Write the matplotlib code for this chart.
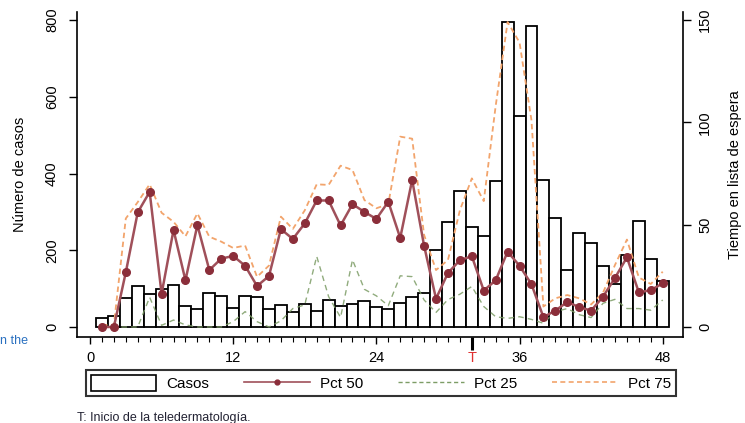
import numpy as np
import matplotlib.pyplot as plt
from matplotlib.patches import Patch
from matplotlib.lines import Line2D

plt.rcParams['font.family'] = ['Liberation Sans', 'DejaVu Sans']

# datos (meses 1..48)
meses = np.arange(1, 49)
casos = [24, 29, 75, 107, 85, 100, 109, 55, 46, 89, 82, 49, 82, 79, 46, 57,
         39, 61, 43, 71, 54, 61, 67, 53, 46, 63, 79, 89, 200, 274, 355, 260,
         238, 380, 795, 550, 785, 383, 283, 148, 246, 220, 160, 111, 188, 277,
         178, 121]
pct50 = [0, 0, 26.7, 56, 66, 16.2, 47.4, 22.8, 49.8, 27.8, 33.4, 34.7, 29.9,
         20, 24.9, 47.8, 43, 50.6, 61.8, 61.8, 49.6, 60, 56.2, 52.8, 61.2,
         43.5, 71.8, 39.7, 13.8, 26.4, 32.6, 34.6, 17.8, 22.8, 36.8, 29.9,
         20.9, 4.8, 8, 12.2, 9.7, 8, 14.8, 24, 34, 16.9, 18, 21.3]
pct25 = [0, 0, 0, 0, 14.5, 0.8, 3.4, 1, 0, 0, 0, 2.6, 7.5, 2.6, 0, 3, 9,
         10.8, 34.5, 14.8, 4.7, 32.8, 18.4, 15.2, 10.4, 25, 24.6, 13.2, 7.1,
         13.4, 16, 19.8, 10, 5, 4.2, 5, 3.7, 1.8, 7.5, 9, 6, 4.6, 11.6, 13.5,
         9, 9, 8.2, 13.2]
pct75 = [1, 1, 53, 61, 69.7, 55.8, 51.4, 44.3, 55.5, 44.1, 41.7, 38.6, 39.8,
         24.5, 30, 53.9, 47.9, 57, 69.7, 69.4, 78.8, 76.7, 62, 58, 60, 93, 92,
         45, 27.8, 32.7, 57, 72.6, 61.5, 108, 149, 139, 101, 10, 14, 15.6, 14,
         11, 16.8, 30.3, 42.7, 24.2, 21, 27]

xticks = [0, 12, 24, 32, 36, 48]
xlabels = ['0', '12', '24', 'T', '36', '48']

fig = plt.figure(figsize=(7.45, 4.23), dpi=100)
ax = fig.add_axes([77/745, 86/423, 606/745, 325/423])

ax.bar(meses, casos, width=1.0, color='white', edgecolor='black', linewidth=1.3)
ax.set_xlim(-1.09, 49.7)
ax.set_ylim(-26, 820.8)
ax.set_yticks([0, 200, 400, 600, 800])
ax.set_xticks(xticks)
ax.set_xticklabels(xlabels)
ax.set_xticks(np.arange(0, 49), minor=True)
ax.tick_params(axis='x', which='major', length=5, width=1, labelsize=10.5, pad=5)
ax.tick_params(axis='x', which='minor', length=3.5, width=0.8)
ax.tick_params(axis='y', length=6, width=1, labelsize=10.5, pad=7)
for lbl in ax.get_yticklabels():
    lbl.set_rotation(90)
    lbl.set_va('center')
ax.set_ylabel('Número de casos', fontsize=10.5)
ax.yaxis.set_label_coords(-0.082, 0.5)

# tick de T en rojo
t = ax.xaxis.get_major_ticks()[3]
t.tick1line.set_color('#d01010')
t.tick1line.set_markersize(9)
t.tick1line.set_markeredgewidth(2.2)
t.label1.set_color('#e03030')

ax2 = ax.twinx()
ax2.set_ylim(-4.9, 153.9)
ax2.plot(meses, pct25, color='#7d9d66', lw=1.0, dashes=(4, 3), alpha=0.85)
ax2.plot(meses, pct75, color='#f2a46c', lw=1.3, dashes=(3, 2))
ax2.plot(meses, pct50, color='#a0505a', lw=1.8, marker='o', ms=5.5,
         mfc='#8b2e3a', mec='#8b2e3a')
ax2.set_yticks([0, 50, 100, 150])
ax2.tick_params(axis='y', length=6, width=1, labelsize=10.5, pad=5)
for lbl in ax2.get_yticklabels():
    lbl.set_rotation(90)
    lbl.set_va('center')
ax2.set_ylabel('Tiempo en lista de espera', fontsize=10.5)
ax2.yaxis.set_label_coords(1.074, 0.5)

for a in (ax, ax2):
    a.spines['top'].set_visible(False)
    for s in a.spines.values():
        s.set_linewidth(1.2)
ax.spines['right'].set_visible(False)
ax2.spines['left'].set_visible(False)
ax2.spines['bottom'].set_visible(False)

handles = [Patch(facecolor='white', edgecolor='black', linewidth=1.2),
           Line2D([], [], color='#a0505a', lw=1.2, marker='o', ms=3.5,
                  mfc='#8b2e3a', mec='#8b2e3a'),
           Line2D([], [], color='#7d9d66', lw=1.0, dashes=(3, 2)),
           Line2D([], [], color='#f2a46c', lw=1.2, dashes=(3, 2))]
labels = ['Casos', 'Pct 50', 'Pct 25', 'Pct 75']
leg = fig.legend(handles, labels, ncol=4, loc='center',
                 bbox_to_anchor=(381/745, 1 - 383/423),
                 fontsize=11, handlelength=4.3, handleheight=1.2,
                 handletextpad=0.65, columnspacing=2.3, borderaxespad=0,
                 frameon=True, fancybox=False, edgecolor='black',
                 borderpad=0.3)
leg.get_frame().set_linewidth(1.5)

fig.text(77/745, 1 - 418/423, 'T: Inicio de la teledermatología.',
         fontsize=9, va='center', color='#222233')
fig.text(0, 1 - 341/423, 'n the', fontsize=9, va='center', color='#2a70c0')

fig.savefig('out.png', dpi=100)
